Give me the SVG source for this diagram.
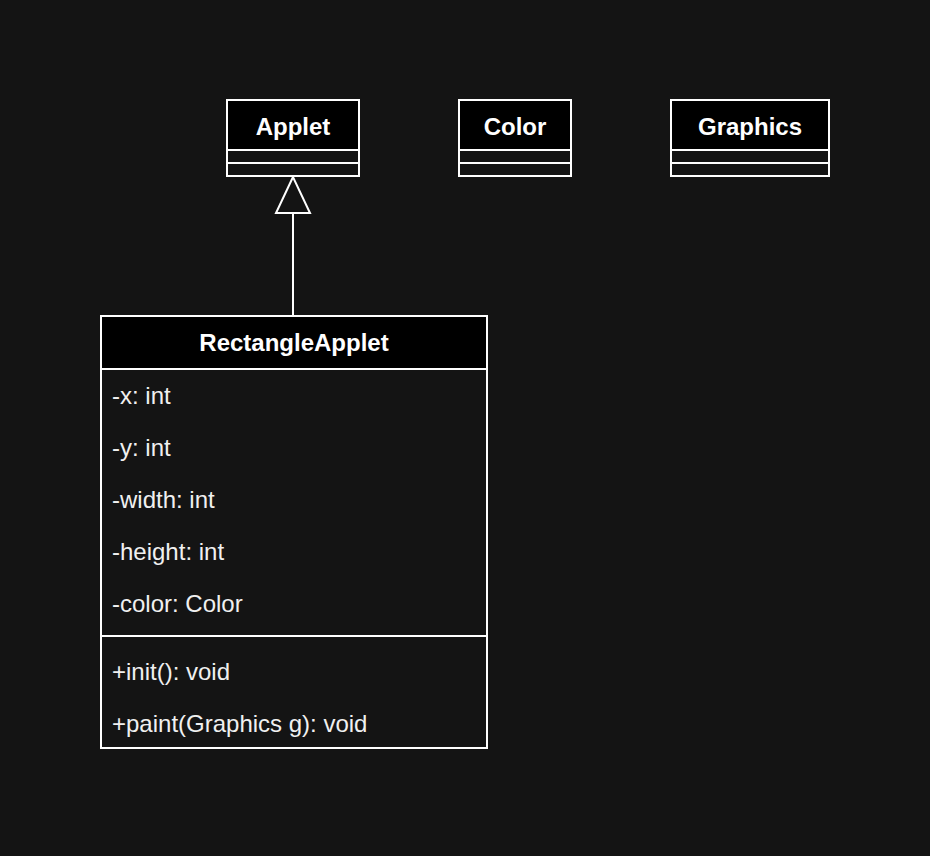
<svg xmlns="http://www.w3.org/2000/svg" width="930" height="856" viewBox="0 0 930 856">
<style>
.box{fill:#141414;stroke:#ffffff;stroke-width:2}
.hdr{fill:#000000;stroke:#ffffff;stroke-width:2}
.ln{stroke:#ffffff;stroke-width:2;fill:none}
.t{font-family:"Liberation Sans",Arial,sans-serif;font-size:24px;fill:#f0f0f0}
.b{font-family:"Liberation Sans",Arial,sans-serif;font-size:24px;font-weight:bold;fill:#ffffff;text-anchor:middle}
</style>
<rect width="930" height="856" fill="#141414"/>
<g id="connectors">
<line class="ln" x1="293" y1="213" x2="293" y2="316"/>
<polygon points="293,177 276,213 310,213" fill="#141414" stroke="#ffffff" stroke-width="2"/>
</g>
<g id="Applet">
<rect class="box" x="227" y="100" width="132" height="76"/>
<rect class="hdr" x="227" y="100" width="132" height="50"/>
<line class="ln" x1="227" y1="163" x2="359" y2="163"/>
<text class="b" x="293" y="135">Applet</text>
</g>
<g id="Color">
<rect class="box" x="459" y="100" width="112" height="76"/>
<rect class="hdr" x="459" y="100" width="112" height="50"/>
<line class="ln" x1="459" y1="163" x2="571" y2="163"/>
<text class="b" x="515" y="135">Color</text>
</g>
<g id="Graphics">
<rect class="box" x="671" y="100" width="158" height="76"/>
<rect class="hdr" x="671" y="100" width="158" height="50"/>
<line class="ln" x1="671" y1="163" x2="829" y2="163"/>
<text class="b" x="750" y="135">Graphics</text>
</g>
<g id="RectangleApplet">
<rect class="box" x="101" y="316" width="386" height="432"/>
<rect class="hdr" x="101" y="316" width="386" height="53"/>
<line class="ln" x1="101" y1="636" x2="487" y2="636"/>
<text class="b" x="294" y="351">RectangleApplet</text>
<text class="t" x="112" y="404">-x: int</text>
<text class="t" x="112" y="456">-y: int</text>
<text class="t" x="112" y="508">-width: int</text>
<text class="t" x="112" y="560">-height: int</text>
<text class="t" x="112" y="612">-color: Color</text>
<text class="t" x="112" y="680">+init(): void</text>
<text class="t" x="112" y="732">+paint(Graphics g): void</text>
</g>
</svg>
